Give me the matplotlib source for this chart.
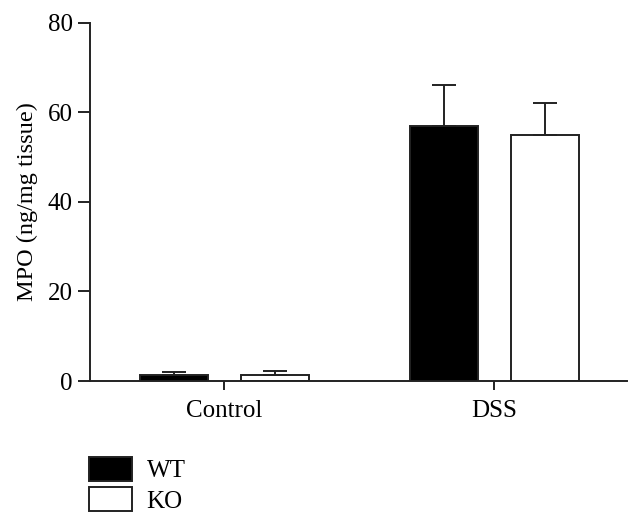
import matplotlib
matplotlib.use("Agg")
import matplotlib.pyplot as plt
import numpy as np
from matplotlib.patches import Patch

# data
groups = ["Control", "DSS"]
wt_mean = [1.3, 57.0]
wt_err = [0.8, 9.1]
ko_mean = [1.4, 54.9]
ko_err = [0.8, 7.2]

plt.rcParams["font.family"] = ["Liberation Serif", "DejaVu Serif"]
plt.rcParams["font.size"] = 18

fig = plt.figure(figsize=(6.42, 5.28), dpi=100)
ax = fig.add_axes([90 / 642, 1 - 381 / 528, (627 - 90) / 642, (381 - 22.7) / 528])

x = np.arange(len(groups))
width = 0.252
offset = 0.187
lw = 1.4
err_kw = dict(elinewidth=lw, capthick=lw, capsize=8.5, ecolor="#222222")

ax.bar(x - offset, wt_mean, width, color="black", edgecolor="#222222", linewidth=lw,
       yerr=[np.zeros(len(wt_err)), wt_err], error_kw=err_kw, label="WT", zorder=2)
ax.bar(x + offset, ko_mean, width, color="white", edgecolor="#222222", linewidth=lw,
       yerr=[np.zeros(len(ko_err)), ko_err], error_kw=err_kw, label="KO", zorder=2)

ax.set_xlim(-0.498, 1.491)
ax.set_ylim(0, 80)
ax.set_yticks([0, 20, 40, 60, 80])
ax.set_xticks(x)
ax.set_xticklabels(groups)
ax.set_ylabel("MPO (ng/mg tissue)", fontsize=17.5, labelpad=7)

for side in ("top", "right"):
    ax.spines[side].set_visible(False)
for side in ("left", "bottom"):
    ax.spines[side].set_linewidth(lw)
    ax.spines[side].set_color("#222222")
ax.tick_params(axis="y", length=8.5, width=lw, color="#222222", pad=4)
ax.tick_params(axis="x", length=6.5, width=lw, color="#222222", pad=7)

handles = [Patch(facecolor="black", edgecolor="#222222", linewidth=lw, label="WT"),
           Patch(facecolor="white", edgecolor="#222222", linewidth=lw, label="KO")]
fig.legend(handles=handles, loc="upper left", bbox_to_anchor=(71 / 642, 1 - 439 / 528),
           frameon=False, handlelength=1.72, handleheight=1.1, labelspacing=0.2,
           handletextpad=0.6, borderpad=0.2)

fig.savefig("out.png", dpi=100)
